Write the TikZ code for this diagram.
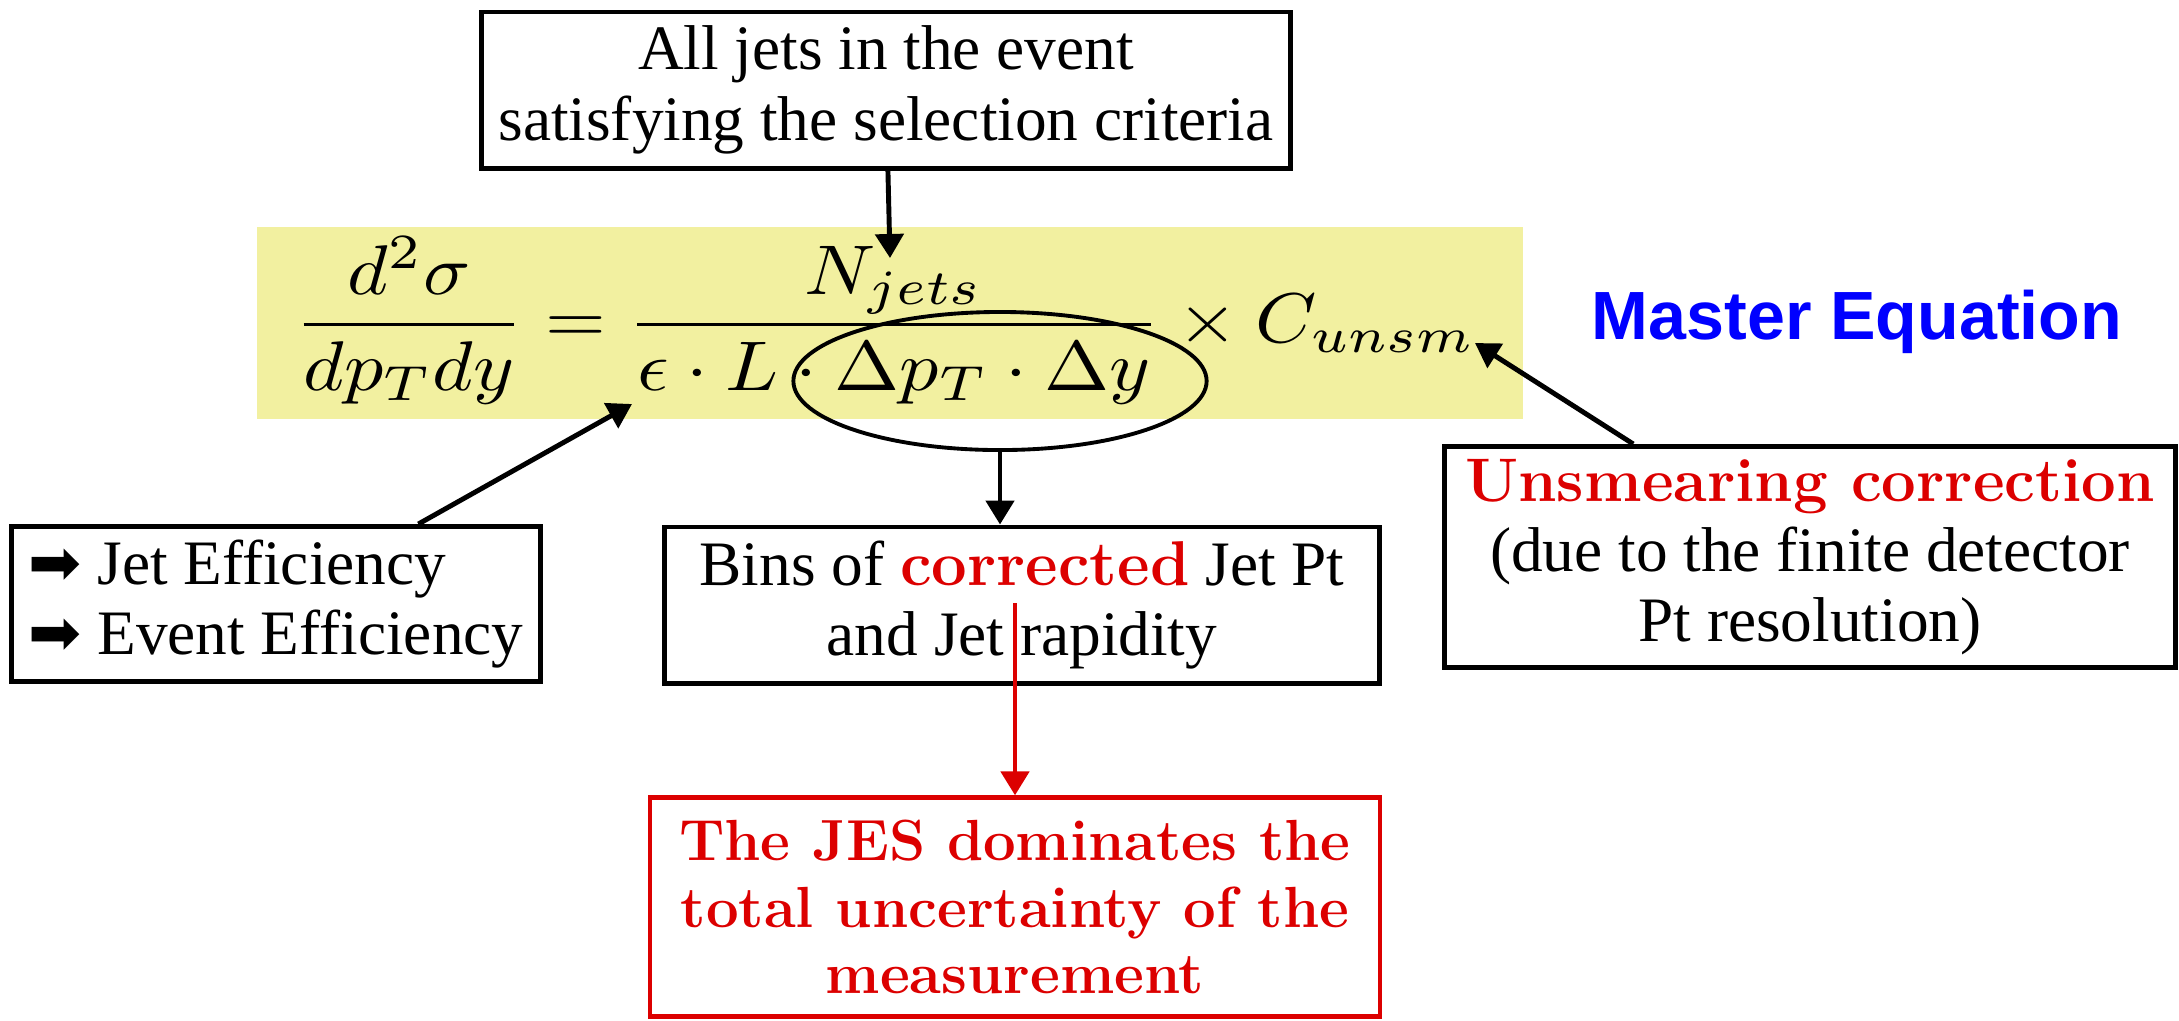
\documentclass[tikz,border=0pt]{standalone}
\usepackage{fontspec}
\usepackage{amsmath, amssymb}
\setmainfont{Liberation Serif}
\newfontfamily\lmfont{Latin Modern Roman}
\newfontfamily\headfont{Liberation Sans}
\newfontfamily\symfont{DejaVu Sans}
\usetikzlibrary{arrows.meta, shapes.geometric}
\definecolor{bandyellow}{RGB}{242,240,160}
\definecolor{jesred}{RGB}{220,0,0}
\definecolor{eqblue}{RGB}{0,0,255}
\newcommand{\hl}[1]{{\lmfont\bfseries\color{jesred}#1}}
\newcommand{\rarr}{{\symfont ➡}}

\tikzset{
  box/.style={draw, line width=1.4pt, inner sep=0pt, align=center, font=\fontsize{18}{20}\selectfont},
  arr/.style={-{Triangle[length=0.24cm,width=0.28cm]}, line width=1.4pt},
}

\begin{document}
\begin{tikzpicture}[x=0.01cm, y=-0.01cm]
\useasboundingbox (0,0) rectangle (2179,1020);
% equation strip
\node[fill=bandyellow, minimum width=12.66cm, minimum height=1.92cm, inner sep=0pt] at(890,323)(band){};
\node[anchor=base] at(885,342)(eq){\scalebox{2.22}[2.0]{$\displaystyle\frac{d^2\sigma}{dp_Tdy}=\frac{N_{jets}}{\epsilon\cdot L\cdot\Delta p_T\cdot\Delta y}\times C_{unsm}$}};
\node[draw, ellipse, line width=1.1pt, minimum width=4.13cm, minimum height=1.38cm] at(1000,381)(ell){};
\coordinate (njets) at(890,258);
\coordinate (eps) at(632,404);
\coordinate (cunsm) at(1475,343);
\node[font=\headfont\bfseries\fontsize{19.4}{22}\selectfont, text=eqblue, anchor=base] at(1857,339)(title){Master Equation};

% boxes
\node[box, minimum width=8.08cm, minimum height=1.56cm] at(886,90)(sel){All jets in the event\\satisfying the selection criteria};
\node[box, minimum width=5.28cm, minimum height=1.55cm, align=left] at(276,604)(eff){\rarr{} Jet Efficiency\\\rarr{} Event Efficiency};
\node[box, minimum width=7.15cm, minimum height=1.56cm] at(1022,605)(bins){Bins of \hl{corrected} Jet Pt\\and Jet rapidity};
\node[box, minimum width=7.3cm, minimum height=2.21cm] at(1810,557)(uns){{\fontsize{17.5}{20}\selectfont\hl{Unsmearing correction}}\\(due to the finite detector\\Pt resolution)};
\node[box, draw=jesred, line width=1.2pt, minimum width=7.3cm, minimum height=2.19cm, text=jesred, font=\lmfont\bfseries\fontsize{16.5}{19}\selectfont] at(1015,907)(jes){The JES dominates the\\total uncertainty of the\\measurement};
\coordinate (corr) at(1015,603);

% arrows
\path[arr]
    (sel) edge (njets)
    (eff) edge (eps)
    (ell) edge (ell |- bins.north)
    (uns) edge (cunsm);
\path[arr, jesred] (corr) edge (corr |- jes.north);
\end{tikzpicture}
\end{document}
